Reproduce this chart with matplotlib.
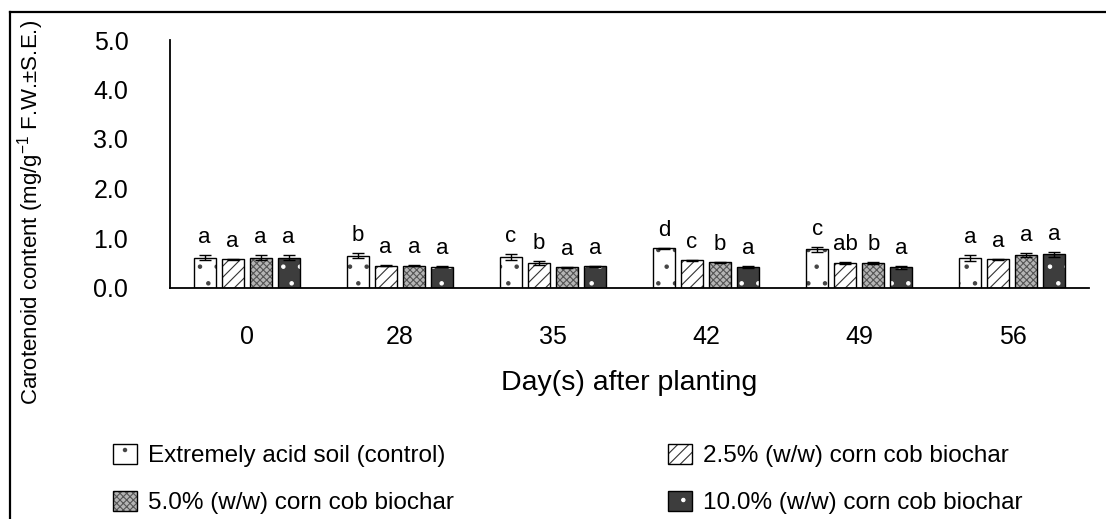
import numpy as np
import matplotlib
matplotlib.use("Agg")
import matplotlib.pyplot as plt
from matplotlib.patches import Patch
from matplotlib.lines import Line2D
from matplotlib.legend_handler import HandlerTuple

plt.rcParams['font.family'] = ['Liberation Sans', 'DejaVu Sans']
plt.rcParams['mathtext.fontset'] = 'custom'
plt.rcParams['mathtext.rm'] = 'Liberation Sans'
plt.rcParams['hatch.linewidth'] = 0.8

# data
days = ['0', '28', '35', '42', '49', '56']
series = ['Extremely acid soil (control)', '2.5% (w/w) corn cob biochar',
          '5.0% (w/w) corn cob biochar', '10.0% (w/w) corn cob biochar']

control = [0.60, 0.64, 0.61, 0.79, 0.77, 0.59]
biochar_25 = [0.57, 0.44, 0.49, 0.55, 0.49, 0.57]
biochar_50 = [0.60, 0.44, 0.41, 0.51, 0.50, 0.65]
biochar_100 = [0.60, 0.42, 0.43, 0.42, 0.41, 0.67]

err_control = [0.05, 0.05, 0.06, 0.01, 0.05, 0.06]
err_25 = [0.01, 0.01, 0.04, 0.01, 0.02, 0.01]
err_50 = [0.05, 0.01, 0.01, 0.01, 0.02, 0.04]
err_100 = [0.05, 0.01, 0.01, 0.02, 0.03, 0.05]

letters_control = ['a', 'b', 'c', 'd', 'c', 'a']
letters_25 = ['a', 'a', 'b', 'c', 'ab', 'a']
letters_50 = ['a', 'a', 'a', 'b', 'b', 'a']
letters_100 = ['a', 'a', 'a', 'a', 'a', 'a']

values = [control, biochar_25, biochar_50, biochar_100]
errors = [err_control, err_25, err_50, err_100]
letters = [letters_control, letters_25, letters_50, letters_100]

# (facecolor, hatch, hatch colour)
styles = [('white', '.', '#444444'),
          ('white', '///', '#333333'),
          ('#b5b5b5', 'xxxxx', '#555555'),
          ('#3d3d3d', '.', 'white')]

fig = plt.figure(figsize=(11.06, 5.19), dpi=100)
ax = fig.add_axes([170/1106, 1 - 287.5/519, 919/1106, 247.5/519])

x = np.arange(len(days))
step = 0.183
width = 0.1436
handles = []
for i, (vals, errs, labs, st) in enumerate(zip(values, errors, letters, styles)):
    pos = x + (i - 1.5) * step
    fc, hatch, hc = st
    ax.bar(pos, vals, width, color=fc, hatch=hatch, edgecolor=hc, linewidth=0, zorder=2)
    ax.bar(pos, vals, width, fill=False, edgecolor='black', linewidth=1.0, zorder=3)
    ax.errorbar(pos, vals, yerr=errs, fmt='none', ecolor='black', elinewidth=1.0,
                capsize=4, capthick=1.0, zorder=4)
    for p, v, e, lab in zip(pos, vals, errs, labs):
        ax.annotate(lab, (p, v + e), xytext=(0, 5), textcoords='offset points',
                    ha='center', va='bottom', fontsize=16)
    handles.append((Patch(facecolor=fc, hatch=hatch, edgecolor=hc, linewidth=0),
                    Patch(fill=False, edgecolor='black', linewidth=1.0)))

ax.set_xlim(-0.5, len(days) - 0.5)
ax.set_ylim(0, 5)
ax.set_yticks(np.arange(0, 5.01, 1.0))
ax.set_yticklabels([f'{v:.1f}' for v in np.arange(0, 5.01, 1.0)])
ax.set_xticks(x)
ax.set_xticklabels(days)
ax.tick_params(axis='both', length=0, labelsize=18)
ax.tick_params(axis='x', pad=27)
ax.tick_params(axis='y', pad=30)
for s in ['top', 'right']:
    ax.spines[s].set_visible(False)
for s in ['left', 'bottom']:
    ax.spines[s].set_linewidth(1.3)

ax.set_ylabel('Carotenoid content (mg/g$^{-1}$ F.W.±S.E.)', fontsize=16)
ax.yaxis.set_label_coords(-0.135, 0.305)
ax.set_xlabel('Day(s) after planting', fontsize=20.5)
ax.xaxis.set_label_coords(0.5, -0.335)

# legend is filled column by column, so order entries to read row-wise
order = [0, 2, 1, 3]
fig.legend([handles[k] for k in order], [series[k] for k in order],
           loc='upper left', bbox_to_anchor=(113/1106, 1 - 444/519),
           ncol=2, frameon=False, fontsize=17.5, handlelength=1.0, handleheight=0.9,
           handletextpad=0.45, columnspacing=8.8, labelspacing=0.95, borderpad=0,
           borderaxespad=0, handler_map={tuple: HandlerTuple(ndivide=1)})

# outer frame (only left and top visible in the crop)
fig.add_artist(Line2D([10/1106, 10/1106], [0, 1 - 12/519], color='black', lw=1.6,
                      transform=fig.transFigure))
fig.add_artist(Line2D([10/1106, 1], [1 - 12/519, 1 - 12/519], color='black', lw=1.6,
                      transform=fig.transFigure))

fig.savefig('out.png', dpi=100)
